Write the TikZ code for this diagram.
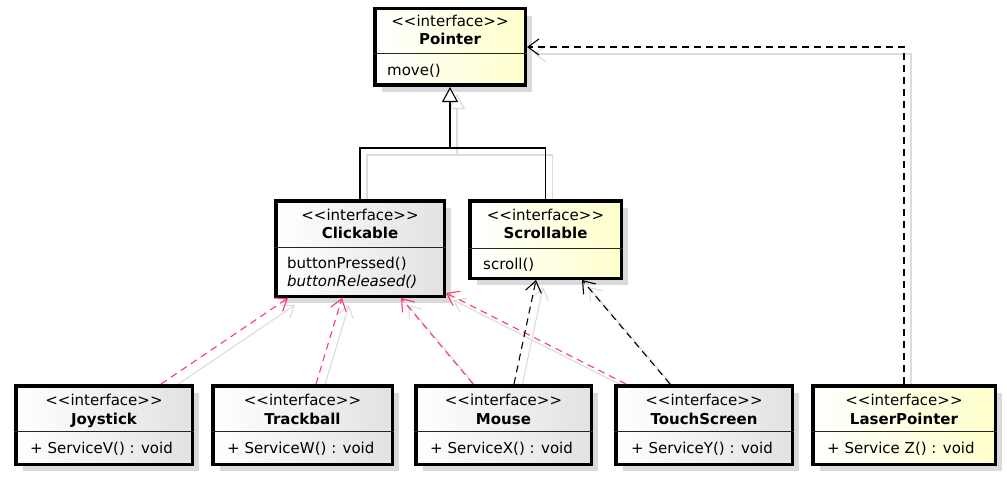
\documentclass[tikz,border=0pt]{standalone}
\usepackage{fontspec}
\newfontfamily\umlfont{DejaVu Sans}
\usetikzlibrary{arrows.meta,calc,shadows}
\definecolor{pinkc}{HTML}{FF3A6C}
\definecolor{shd}{HTML}{DADADA}
\definecolor{lshd}{HTML}{DCDCDC}
\definecolor{grayend}{HTML}{E2E2E2}
\definecolor{yelend}{HTML}{FFFFCC}
\pgfdeclarelayer{bg}
\pgfsetlayers{bg,main}
\tikzset{
  umlbox/.style={draw=black, line width=3.5pt, rectangle, inner sep=0pt, outer sep=1.75pt,
    drop shadow={shadow xshift=7pt, shadow yshift=-7pt, fill=shd, opacity=1}},
  graybox/.style={umlbox, left color=white, right color=grayend},
  yelbox/.style={umlbox, left color=white, right color=yelend},
  stereo/.style={anchor=base, inner sep=0pt, font=\umlfont\fontsize{15}{18}\selectfont},
  cname/.style={anchor=base, inner sep=0pt, font=\umlfont\fontsize{15}{18}\selectfont\bfseries},
  member/.style={anchor=base west, inner sep=0pt, font=\umlfont\fontsize{15}{18}\selectfont},
  imember/.style={member, font=\umlfont\fontsize{15}{18}\selectfont\itshape},
  sepline/.style={line width=1pt, black!85},
  conn/.style={line width=1.1pt},
  realize/.style={conn, color=pinkc, dash pattern=on 7pt off 5pt, -{Straight Barb[length=11pt,width=16pt]}},
  depend/.style={conn, color=black, dash pattern=on 7pt off 5pt, -{Straight Barb[length=11pt,width=16pt]}},
  general/.style={conn, color=black, -{Triangle[length=15pt,width=16pt,fill=white]}},
  plainconn/.style={conn, color=black},
  lineshadow/.style={color=lshd, solid, transform canvas={shift={(7pt,-7pt)}}},
}
\newcommand\umlconn[2]{\begin{pgfonlayer}{bg}\draw[#1,lineshadow] #2;\end{pgfonlayer}\draw[#1] #2;}
\newcommand\bottombox[5]{%
  \node[#2, minimum width=#4pt, minimum height=78.5pt] (#1) at (#3,425) {};
  \draw[sepline] ($(#1.north west)+(0,47)$) -- ($(#1.north east)+(0,47)$);
  \node[stereo] (#1-st) at ($(#1.north)+(0,21)$) {<<interface>>};
  \node[cname] (#1-nm) at ($(#1.north)+(0,40)$) {#5};
}
\begin{document}
\begin{tikzpicture}[x=1pt,y=-1pt]
\useasboundingbox (0,0) rectangle (1007,487);

% Pointer
\node[yelbox, minimum width=150.5pt, minimum height=76.5pt] (ptr) at (450,47) {};
\draw[sepline] ($(ptr.north west)+(0,47)$) -- ($(ptr.north east)+(0,47)$);
\node[stereo] (ptr-st) at ($(ptr.north)+(0,20)$) {<<interface>>};
\node[cname] (ptr-nm) at ($(ptr.north)+(0,38)$) {Pointer};
\node[member] (ptr-m1) at ($(ptr.north west)+(14,68)$) {move()};

% Clickable
\node[graybox, minimum width=168.5pt, minimum height=95.5pt] (click) at (360,248.5) {};
\draw[sepline] ($(click.north west)+(0,48)$) -- ($(click.north east)+(0,48)$);
\node[stereo] (click-st) at ($(click.north)+(0,21)$) {<<interface>>};
\node[cname] (click-nm) at ($(click.north)+(0,39)$) {Clickable};
\node[member] (click-m1) at ($(click.north west)+(13,69)$) {buttonPressed()};
\node[imember] (click-m2) at ($(click.north west)+(13,87)$) {buttonReleased()};

% Scrollable
\node[yelbox, minimum width=151.5pt, minimum height=77.5pt] (scroll) at (545.5,239.5) {};
\draw[sepline] ($(scroll.north west)+(0,49)$) -- ($(scroll.north east)+(0,49)$);
\node[stereo] (scroll-st) at ($(scroll.north)+(0,21)$) {<<interface>>};
\node[cname] (scroll-nm) at ($(scroll.north)+(0,39)$) {Scrollable};
\node[member] (scroll-m1) at ($(scroll.north west)+(15,70)$) {scroll()};

% bottom row
\bottombox{joy}{graybox}{104}{176.5}{Joystick}
\node[member] (joy-m1) at ($(joy.north west)+(16,69)$) {+ ServiceV() : void};
\bottombox{trk}{graybox}{302.5}{179.5}{Trackball}
\node[member] (trk-m1) at ($(trk.north west)+(16,69)$) {+ ServiceW() : void};
\bottombox{mouse}{graybox}{503.5}{175.5}{Mouse}
\node[member] (mouse-m1) at ($(mouse.north west)+(16,69)$) {+ ServiceX() : void};
\bottombox{touch}{graybox}{704}{176.5}{TouchScreen}
\node[member] (touch-m1) at ($(touch.north west)+(17,69)$) {+ ServiceY() : void};
\bottombox{laser}{yelbox}{904}{182.5}{LaserPointer}
\node[member] (laser-m1) at ($(laser.north west)+(16,69)$) {+ Service Z() : void};

% generalization
\coordinate (gj) at ($(ptr.south)+(0,61)$);
\umlconn{plainconn}{(click.north) |- (gj) -| (scroll.north)}
\umlconn{general}{(gj) -- (ptr.south)}

% realizations to Clickable
\umlconn{realize}{($(joy.north west)+(147,0)$) -- ($(click.south west)+(14,0)$)}
\umlconn{realize}{($(trk.north west)+(105,0)$) -- ($(click.south west)+(68,0)$)}
\umlconn{realize}{($(mouse.north west)+(59,0)$) -- ($(click.south west)+(127,0)$)}
\umlconn{realize}{($(touch.north west)+(12,0)$) -- ($(click.south east)+(0,-5)$)}

% dependencies to Scrollable
\umlconn{depend}{($(mouse.north west)+(100,0)$) -- ($(scroll.south west)+(68,0)$)}
\umlconn{depend}{($(touch.north west)+(56,0)$) -- ($(scroll.south west)+(114,0)$)}

% LaserPointer to Pointer
\umlconn{depend}{(laser.north) |- (ptr.east)}
\end{tikzpicture}
\end{document}
